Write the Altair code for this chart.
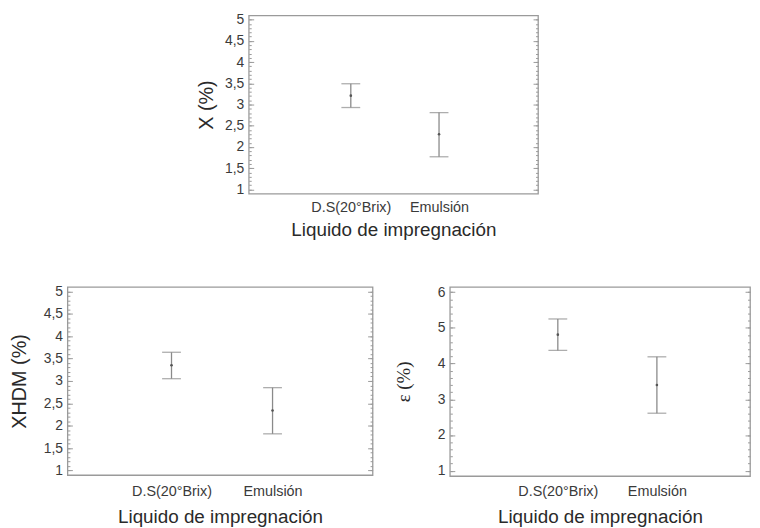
import json
import altair as alt
import pandas as pd

categories = ["D.S(20°Brix)", "Emulsión"]

x_mean = [3.21, 2.30]
x_low = [2.93, 1.77]
x_high = [3.49, 2.81]

xhdm_mean = [3.35, 2.34]
xhdm_low = [3.05, 1.82]
xhdm_high = [3.64, 2.85]

eps_mean = [4.81, 3.40]
eps_low = [4.37, 2.61]
eps_high = [5.25, 4.19]

major_5 = [1, 1.5, 2, 2.5, 3, 3.5, 4, 4.5, 5]
minor_5 = [round(1 + 0.1 * i, 1) for i in range(41)]
major_6 = [1, 2, 3, 4, 5, 6]
minor_6 = [round(1 + 0.2 * i, 1) for i in range(26)]

XTITLE = "Liquido de impregnación"
FONT = "Liberation Sans"
BAR = "#8a8a8a"
FRAME = "#9a9a9a"


def panel(ytitle, mean, low, high, domain, major, minor, W, H, xdom,
          ytitle_font=FONT, ytitle_size=20, ytitle_pad=10,
          xlabel_pad=6, xtitle_pad=4):
    df = pd.DataFrame({"cat": categories, "mean": mean, "low": low, "high": high})
    df["pos"] = range(1, len(categories) + 1)
    base = alt.Chart(df)
    xs = alt.Scale(domain=xdom, nice=False, zero=False)
    xlab = json.dumps(categories, ensure_ascii=False) + "[datum.value - 1]"
    xenc = alt.X("pos:Q", scale=xs,
                 axis=alt.Axis(title=XTITLE, ticks=False, domain=False, grid=False,
                               values=list(range(1, len(categories) + 1)),
                               labelExpr=xlab,
                               labelAngle=0, labelFontSize=14.5, titleFontSize=19,
                               labelPadding=xlabel_pad, titlePadding=xtitle_pad,
                               labelColor="#3a3a3a", titleColor="#2a2a2a",
                               titleFontWeight="normal"))
    ys = alt.Scale(domain=domain, nice=False, zero=False)
    lab = "replace(format(datum.value, '~g'), '.', ',')"

    def tick_axis(orient, vals, size):
        return alt.Axis(orient=orient, offset=-W, values=vals, labels=False,
                        ticks=True, tickSize=size, tickColor=FRAME, tickWidth=1,
                        domain=False, grid=False, title=None)

    rule = base.mark_rule(color=BAR, strokeWidth=1.3).encode(
        x=xenc,
        y=alt.Y("low:Q", scale=ys,
                axis=alt.Axis(orient="left", values=major, labelExpr=lab,
                              ticks=False, domain=False, grid=False,
                              labelPadding=5, labelFontSize=14,
                              labelColor="#3a3a3a",
                              title=ytitle, titleFont=ytitle_font,
                              titleFontSize=ytitle_size, titleColor="#2a2a2a",
                              titleFontWeight="normal", titlePadding=ytitle_pad)),
        y2="high:Q",
    )
    cap_lo = base.mark_tick(color=BAR, thickness=1.3, size=19, orient="horizontal").encode(
        x=xenc, y=alt.Y("low:Q", scale=ys, axis=tick_axis("right", major, 5)))
    cap_hi = base.mark_tick(color=BAR, thickness=1.3, size=19, orient="horizontal").encode(
        x=xenc, y=alt.Y("high:Q", scale=ys, axis=tick_axis("right", minor, 2.5)))
    dot = base.mark_point(filled=True, color="#555555", size=7, opacity=1).encode(
        x=xenc, y=alt.Y("mean:Q", scale=ys, axis=tick_axis("left", major, 5)))
    dot2 = base.mark_point(filled=True, color="#555555", size=7, opacity=0).encode(
        x=xenc, y=alt.Y("mean:Q", scale=ys, axis=tick_axis("left", minor, 2.5)))
    return alt.layer(rule, cap_lo, cap_hi, dot, dot2).resolve_axis(y="independent").properties(
        width=W, height=H)


top = panel("X (%)", x_mean, x_low, x_high, [0.9, 5.1], major_5, minor_5, 292, 180,
            [-0.157, 3.122], ytitle_pad=8, xlabel_pad=7, xtitle_pad=7)
bl = panel("XHDM (%)", xhdm_mean, xhdm_low, xhdm_high, [0.9, 5.1], major_5, minor_5, 308, 190,
           [-0.03, 2.99], ytitle_pad=14, xlabel_pad=10, xtitle_pad=9)
br = panel("ε (%)", eps_mean, eps_low, eps_high, [0.85, 6.15], major_6, minor_6, 303, 191,
           [-0.09, 2.94], ytitle_font="Liberation Serif", ytitle_size=19, ytitle_pad=24,
           xlabel_pad=9, xtitle_pad=9)

spacer = alt.Chart(pd.DataFrame({"a": [0]})).mark_point(opacity=0).encode(
    x=alt.value(0), y=alt.value(0)
).properties(width=129, height=1, view=alt.ViewBackground(strokeOpacity=0))

top_row = alt.hconcat(spacer, top, spacing=0)
bottom_row = alt.hconcat(bl, br, spacing=19)

chart = alt.vconcat(top_row, bottom_row, spacing=42).properties(
    padding={"left": 0, "top": 1, "right": 0, "bottom": 0}
).configure_view(stroke=FRAME, strokeWidth=1.3).configure_axis(
    labelFont=FONT, titleFont=FONT
).configure_concat(spacing=0)

chart.save("out.html", embed_options={"renderer": "svg", "actions": False})
